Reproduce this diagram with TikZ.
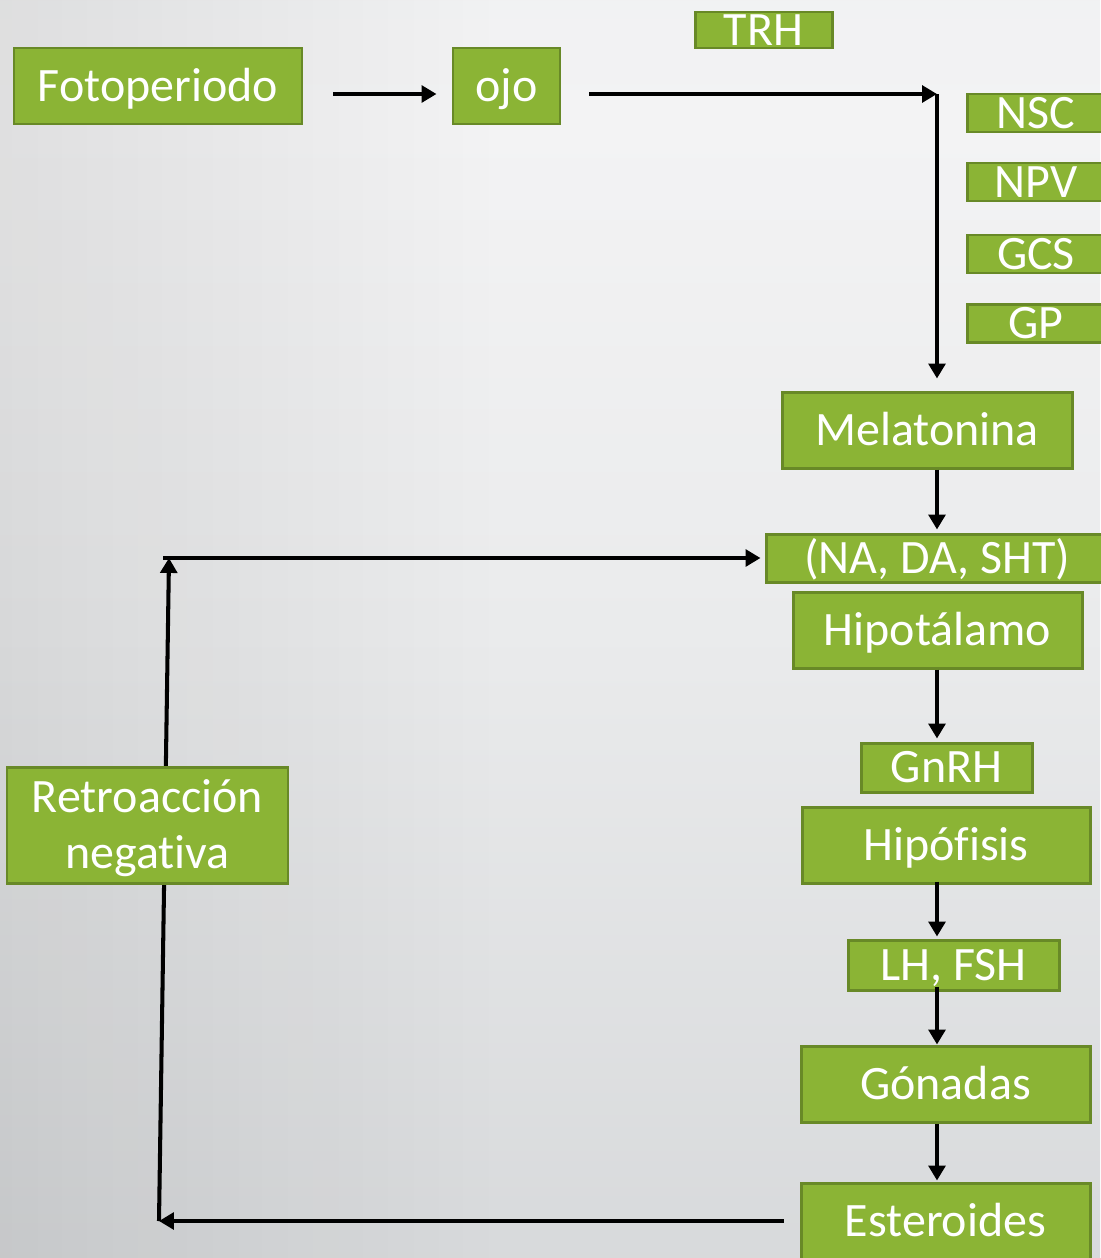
\documentclass[tikz,border=0pt]{standalone}
\usepackage{fontspec}
\setmainfont{Carlito}[Ligatures=NoCommon]
\usetikzlibrary{arrows.meta,fadings}
\definecolor{boxg}{RGB}{139,180,53}
\definecolor{boxb}{RGB}{104,137,39}
\definecolor{bgA}{RGB}{196,199,201}
\definecolor{bgB}{RGB}{212,214,216}
\definecolor{bgC}{RGB}{234,235,236}
\definecolor{bgD}{RGB}{243,243,244}
\definecolor{bgE}{RGB}{236,237,238}
\definecolor{bgF}{RGB}{228,229,230}
\pgfdeclareverticalshading{bgshade}{100bp}{color(0bp)=(bgA); color(20bp)=(bgB); color(50bp)=(bgC); color(70bp)=(bgD); color(90bp)=(bgE); color(100bp)=(bgF)}
\tikzfading[name=fadeleft, left color=transparent!0, right color=transparent!100]
\begin{document}
\begin{tikzpicture}[x=0.02cm,y=-0.02cm,
  box/.style={draw=boxb, fill=boxg, line width=1.7pt, text=white, inner sep=0pt,
    font=\fontsize{27.3}{31.9}\selectfont, text height=17.3pt, text depth=0pt},
  conn/.style={line width=2.3pt, draw=black, -{Triangle[length=8.5pt,width=9.5pt]}}]
\useasboundingbox (0,0) rectangle (1100,1258);
\shade[shading=bgshade] (0,0) rectangle (1100,1258);
\fill[black, opacity=0.08, path fading=fadeleft, fit fading=true] (0,0) rectangle (500,1258);

% boxes
\node[box, minimum width=288*0.02cm, minimum height=76*0.02cm] (foto) at (158,86) {Fotoperiodo};
\node[box, minimum width=107*0.02cm, minimum height=76*0.02cm] (ojo) at (506.5,86) {ojo};
\node[box, minimum width=137*0.02cm, minimum height=36*0.02cm] (trh) at (763.5,30) {TRH};
\node[box, minimum width=138*0.02cm, minimum height=38*0.02cm] (nsc) at (1036,113) {NSC};
\node[box, minimum width=138*0.02cm, minimum height=38*0.02cm] (npv) at (1036,182) {NPV};
\node[box, minimum width=138*0.02cm, minimum height=38*0.02cm] (gcs) at (1036,254) {GCS};
\node[box, minimum width=138*0.02cm, minimum height=38*0.02cm] (gp) at (1036,323.5) {GP};
\node[box, minimum width=290*0.02cm, minimum height=76*0.02cm] (mel) at (927,430) {Melatonina};
\node[box, minimum width=342*0.02cm, minimum height=48*0.02cm] (na) at (937,558) {(NA, DA, SHT)};
\node[box, minimum width=289*0.02cm, minimum height=76*0.02cm] (hipo) at (937.5,630) {Hipotálamo};
\node[box, minimum width=171*0.02cm, minimum height=49*0.02cm] (gnrh) at (946.5,767.5) {GnRH};
\node[box, minimum width=288*0.02cm, minimum height=76*0.02cm] (hipof) at (946,845) {Hipófisis};
\node[box, minimum width=211*0.02cm, minimum height=50*0.02cm] (lh) at (953.5,965) {LH, FSH};
\node[box, minimum width=289*0.02cm, minimum height=76*0.02cm] (gon) at (945.5,1084) {Gónadas};
\node[box, minimum width=289*0.02cm, minimum height=76*0.02cm] (est) at (945.5,1221) {Esteroides};

% helper points
\coordinate (corner) at (937,94);
\coordinate (bl) at (159,1221);
\coordinate (tl) at (169,558);

% connectors
\draw[conn] ([shift={(30,8)}]foto.east) -- ([shift={(-15,8)}]ojo.west);
\draw[conn] ([shift={(28,8)}]ojo.east) -- (corner);
\draw[conn] (corner) -- ([shift={(0,-12)}]corner |- mel.north);
\draw[conn] (corner |- mel.south) -- ([shift={(0,-3)}]corner |- na.north);
\draw[conn] (corner |- hipo.south) -- ([shift={(0,-3)}]corner |- gnrh.north);
\draw[conn] ([shift={(0,-3)}]corner |- hipof.south) -- ([shift={(0,-2)}]corner |- lh.north);
\draw[conn] ([shift={(0,-5)}]corner |- lh.south) -- (corner |- gon.north);
\draw[conn] (corner |- gon.south) -- ([shift={(0,-1)}]corner |- est.north);
\draw[conn] ([shift={(-16,0)}]est.west) -- (bl);
\draw[conn] (bl) -- (tl);
\draw[conn] ([shift={(-6,0)}]tl) -- ([shift={(-4,0)}]na.west);

\node[box, minimum width=281*0.02cm, minimum height=116*0.02cm, text height=49.2pt] (retro) at (147.5,825)
  {\begin{tabular}[b]{@{}c@{}}Retroacción\\negativa\end{tabular}};
\end{tikzpicture}
\end{document}
